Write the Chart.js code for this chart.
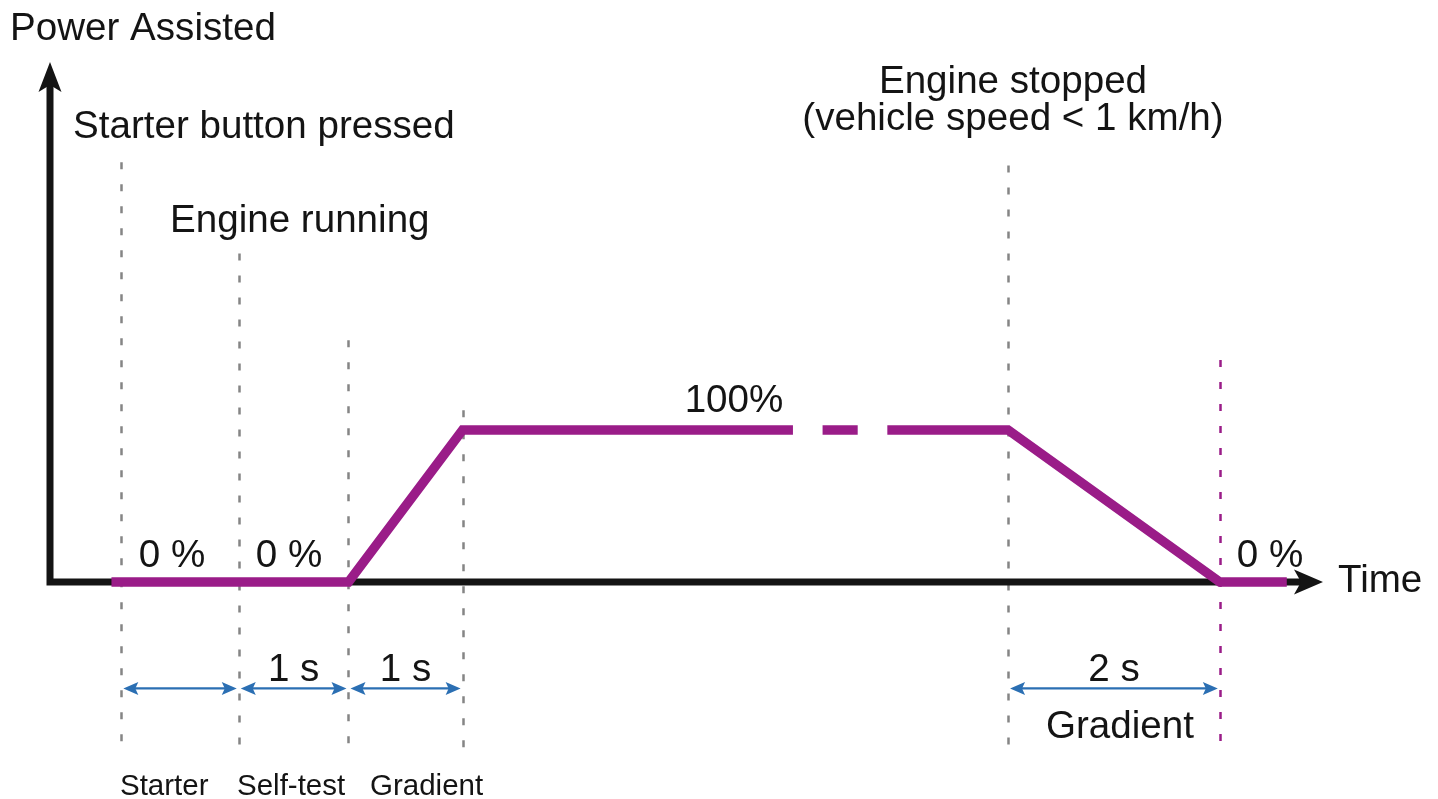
<!DOCTYPE html>
<html>
<head>
<meta charset="utf-8">
<title>Power Assisted</title>
<script src="https://cdn.jsdelivr.net/npm/chart.js@4"></script>
<style>
  html, body { margin: 0; padding: 0; background: #fff; }
  #wrap { width: 1438px; height: 799px; }
</style>
</head>
<body>
<div id="wrap"><canvas id="assistChart"></canvas></div>
<script>
// assist profile: time (s) vs power (%), nulls break the line
const profileTimes = [0.56, 2.72, 3.76, 6.77, 6.9, 7.04, 7.36, 7.5, 7.63, 8.73, 10.66, 11.27];
const profilePower = [0, 0, 100, 100, null, 100, 100, null, 100, 100, 0, 0];

// events: starter pressed, engine running, self-test done, gradient done, engine stopped, assist off
const eventTimes = [0.65, 1.72, 2.72, 3.76, 8.73, 10.66];

// duration spans between events
const spanFrom = [0, 1, 2, 4];
const spanTo = [1, 2, 3, 5];
const spanLabels = ['', '1 s', '1 s', '2 s'];

const PURPLE = '#9a1c88';
const BLUE = '#2b6fb3';
const GREY = '#858585';
const INK = '#141414';
const FONT = '"Liberation Sans", Arial, sans-serif';

// where each guide line starts (in % units of the y scale) and its colour
const guideTop = [276, 216, 159, 113, 274, 146];
const guideColor = [GREY, GREY, GREY, GREY, GREY, PURPLE];
const guideBottom = -110;
const spanLevel = -70;

function arrowHead(ctx, tx, ty, dx, dy, len, half, notch) {
  const px = -dy, py = dx;
  ctx.beginPath();
  ctx.moveTo(tx, ty);
  ctx.lineTo(tx - dx * len + px * half, ty - dy * len + py * half);
  ctx.lineTo(tx - dx * (len - notch), ty - dy * (len - notch));
  ctx.lineTo(tx - dx * len - px * half, ty - dy * len - py * half);
  ctx.closePath();
  ctx.fill();
}

const diagramPlugin = {
  id: 'diagram',
  beforeDatasetsDraw(chart) {
    const { ctx, chartArea: a, scales: { x, y } } = chart;
    ctx.save();

    // dashed event guides
    ctx.lineWidth = 2.5;
    ctx.setLineDash([7, 15]);
    eventTimes.forEach((t, i) => {
      const px = Math.round(x.getPixelForValue(t)) + 0.5;
      ctx.strokeStyle = guideColor[i];
      ctx.beginPath();
      ctx.moveTo(px, y.getPixelForValue(guideTop[i]));
      ctx.lineTo(px, y.getPixelForValue(guideBottom));
      ctx.stroke();
    });
    ctx.setLineDash([]);

    // axes with arrow heads
    const y0 = y.getPixelForValue(0);
    ctx.strokeStyle = INK;
    ctx.fillStyle = INK;
    ctx.lineWidth = 7;
    ctx.beginPath();
    ctx.moveTo(a.left, y0 + 3.5);
    ctx.lineTo(a.left, a.top + 20);
    ctx.moveTo(a.left - 3.5, y0);
    ctx.lineTo(a.right - 20, y0);
    ctx.stroke();
    arrowHead(ctx, a.left, a.top, 0, -1, 30, 11.5, 7);
    arrowHead(ctx, a.right, y0, 1, 0, 29, 12.5, 7);

    // duration arrows
    ctx.strokeStyle = BLUE;
    ctx.fillStyle = BLUE;
    ctx.lineWidth = 2.2;
    const sy = y.getPixelForValue(spanLevel);
    spanFrom.forEach((f, i) => {
      const x1 = x.getPixelForValue(eventTimes[f]) + 2;
      const x2 = x.getPixelForValue(eventTimes[spanTo[i]]) - 2;
      ctx.beginPath();
      ctx.moveTo(x1 + 8, sy);
      ctx.lineTo(x2 - 8, sy);
      ctx.stroke();
      arrowHead(ctx, x1, sy, -1, 0, 15, 6.5, 3);
      arrowHead(ctx, x2, sy, 1, 0, 15, 6.5, 3);
    });
    ctx.restore();
  },
  afterDatasetsDraw(chart) {
    const { ctx, scales: { x, y } } = chart;
    ctx.save();
    ctx.fillStyle = INK;
    ctx.textBaseline = 'alphabetic';
    ctx.font = '38.6px ' + FONT;

    ctx.textAlign = 'left';
    ctx.fillText('Power Assisted', 10, 40);
    ctx.fillText('Starter button pressed', 73, 138);
    ctx.fillText('Engine running', 170, 232);
    ctx.fillText('Time', 1338, 592);

    ctx.textAlign = 'center';
    ctx.fillText('Engine stopped', 1013, 93);
    ctx.fillText('(vehicle speed < 1 km/h)', 1013, 130);

    // level labels above the line
    const zero = y.getPixelForValue(0) - 15;
    ctx.fillText('0 %', 172, zero);
    ctx.fillText('0 %', 289, zero);
    ctx.fillText('0 %', 1270, zero);
    ctx.fillText('100%', 734, y.getPixelForValue(100) - 18);

    // span labels
    const sy = y.getPixelForValue(spanLevel);
    spanFrom.forEach((f, i) => {
      if (!spanLabels[i]) return;
      const cx = (x.getPixelForValue(eventTimes[f]) + x.getPixelForValue(eventTimes[spanTo[i]])) / 2;
      ctx.fillText(spanLabels[i], cx, sy - 7);
    });
    ctx.fillText('Gradient', 1120, 738);

    // phase names
    ctx.font = '29.5px ' + FONT;
    ctx.textAlign = 'left';
    ctx.fillText('Starter', 120, 795);
    ctx.fillText('Self-test', 237, 795);
    ctx.fillText('Gradient', 370, 795);
    ctx.restore();
  }
};

const ctx = document.getElementById('assistChart').getContext('2d');
const assistChart = new Chart(ctx, {
  type: 'line',
  data: {
    datasets: [{
      label: 'Power Assisted',
      data: profileTimes.map((t, i) => ({ x: t, y: profilePower[i] })),
      borderColor: PURPLE,
      borderWidth: 9.5,
      borderCapStyle: 'butt',
      borderJoinStyle: 'miter',
      pointRadius: 0,
      tension: 0,
      spanGaps: false,
      clip: false
    }]
  },
  options: {
    responsive: true,
    maintainAspectRatio: false,
    animation: false,
    layout: { padding: { left: 50, right: 115, top: 62, bottom: 217 } },
    plugins: { legend: { display: false }, tooltip: { enabled: false } },
    scales: {
      x: { type: 'linear', display: false, min: 0, max: 11.6 },
      y: { display: false, min: 0, max: 342 }
    }
  },
  plugins: [diagramPlugin]
});
</script>
</body>
</html>
